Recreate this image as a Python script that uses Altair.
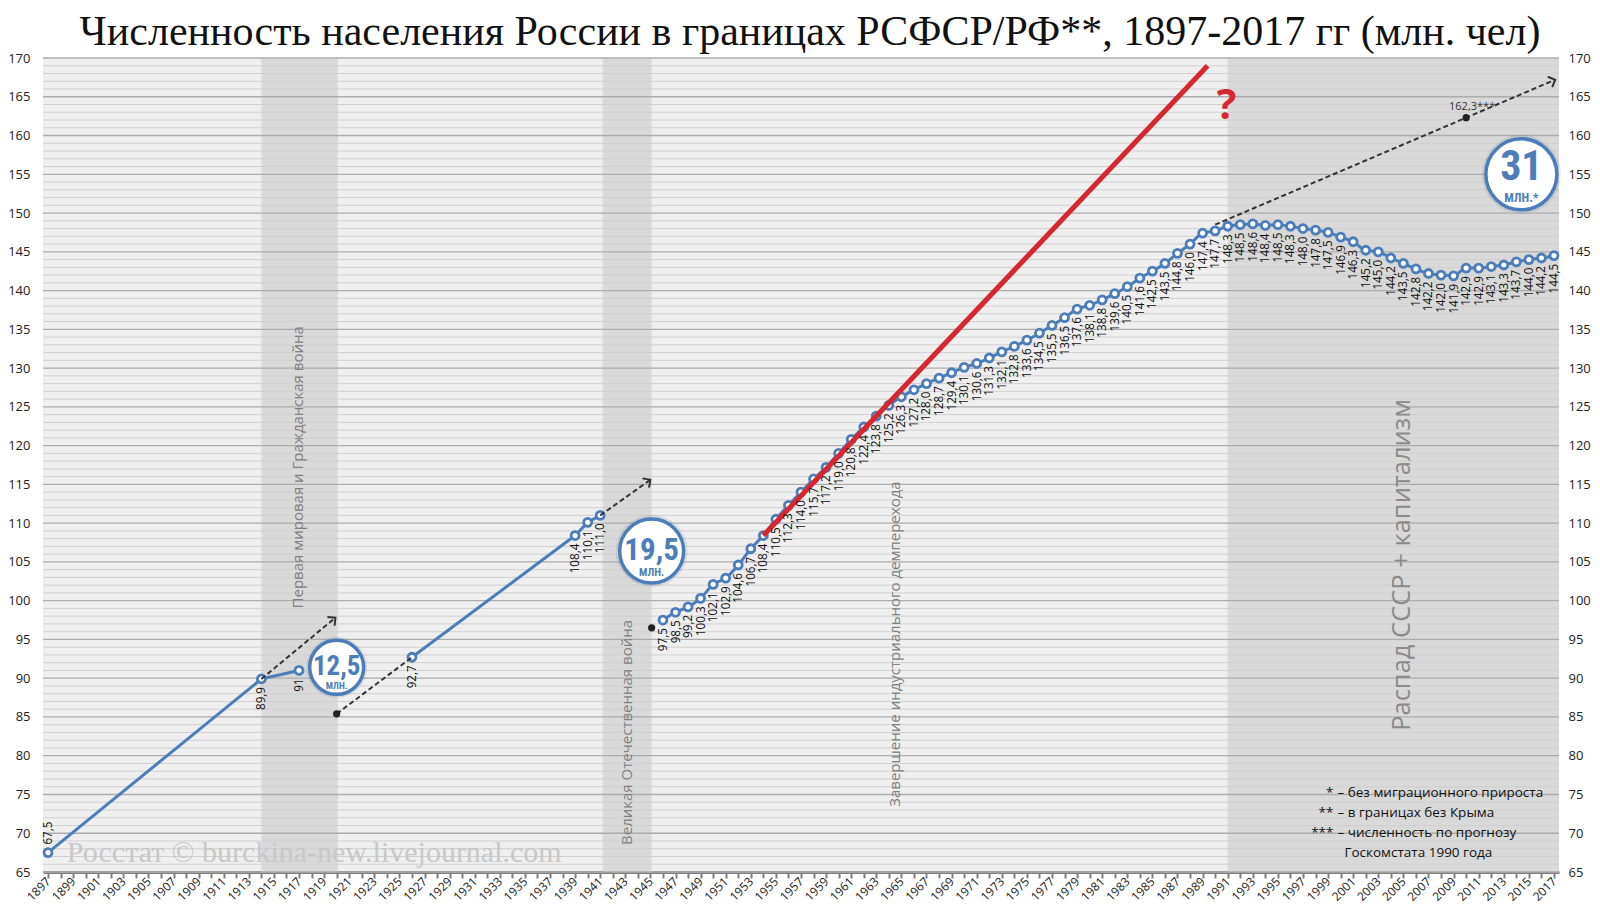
import math
import altair as alt
import pandas as pd

TITLE = "Численность населения России в границах РСФСР/РФ**, 1897-2017 гг (млн. чел)"

# ---------------- data ----------------
years = [1897, 1914, 1917, 1926, 1939, 1940, 1941] + list(range(1946, 2018))
population = [67.5, 89.9, 91.0, 92.7, 108.4, 110.1, 111.0,
              97.5, 98.5, 99.2, 100.3, 102.1, 102.9, 104.6, 106.7, 108.4, 110.5,
              112.3, 114.0, 115.7, 117.2, 119.0, 120.8, 122.4, 123.8, 125.2, 126.3,
              127.2, 128.0, 128.7, 129.4, 130.1, 130.6, 131.3, 132.1, 132.8, 133.6,
              134.5, 135.5, 136.5, 137.6, 138.1, 138.8, 139.6, 140.5, 141.6, 142.5,
              143.5, 144.8, 146.0, 147.4, 147.7, 148.3, 148.5, 148.6, 148.4, 148.5,
              148.3, 148.0, 147.8, 147.5, 146.9, 146.3, 145.2, 145.0, 144.2, 143.5,
              142.8, 142.2, 142.0, 141.9, 142.9, 142.9, 143.1, 143.3, 143.7, 144.0,
              144.2, 144.5]
segments = [0, 0, 0, 1, 1, 1, 1] + [2] * 72

red_years = [1954, 1989.4]
red_values = [108.4, 169.0]

arrow_ids = ["a", "a", "b", "b", "c", "c", "d", "d", "d"]
arrow_years = [1914, 1919.9, 1920, 1926, 1941, 1945, 1990, 2010, 2017.1]
arrow_values = [89.9, 97.8, 85.4, 92.7, 111.0, 115.6, 148.5, 162.3, 167.2]
arrowhead_ids = ["a", "c", "d"]

dot_years = [1920, 1945.1, 2010]
dot_values = [85.4, 96.5, 162.3]

band_start = [1914, 1941.2, 1991]
band_end = [1920.1, 1945.1, 2017.4]

badge_years = [1920, 1945.1, 2014.4]
badge_values = [91.4, 106.4, 155.0]
badge_numbers = ["12,5", "19,5", "31"]
badge_units = ["МЛН.", "МЛН.", "МЛН.*"]

note_texts = ["Первая мировая и Гражданская война",
              "Великая Отечественная война",
              "Завершение индустриального демперехода"]
note_years = [1916.9, 1943.1, 1964.5]
note_values = [117.2, 83.0, 94.4]

big_note = "Распад СССР + капитализм"
big_note_year = 2004.9
big_note_value = 104.6

legend_marks = ["*", "**", "***", ""]
legend_texts = ["– без миграционного прироста", "– в границах без Крыма",
                "– численность по прогнозу", "Госкомстата 1990 года"]
legend_years = [1999.75, 1999.75, 1999.75, 2000.3]
legend_values = [75.2, 72.6, 70.0, 67.5]

forecast_label = "162,3***"
watermark = "Росстат © burckina-new.livejournal.com"
watermark_year, watermark_value = 1898.5, 67.5
question_year, question_value = 1990.9, 163.7

# ---------------- styling ----------------
BLUE = "#4d7db8"
RED = "#d7262f"
W, H = 1516, 814
XMIN, XMAX = 1896.6, 2017.4
YMIN, YMAX = 65, 170
SANS = "Open Sans"
SERIF = "Liberation Serif"
NARROW = "Roboto Condensed, Liberation Sans Narrow, Arial Narrow, Roboto"

XS = alt.Scale(domain=[XMIN, XMAX], nice=False, zero=False)
YS = alt.Scale(domain=[YMIN, YMAX], nice=False, zero=False)


def X(f, axis=None):
    return alt.X(f, type="quantitative", scale=XS, axis=axis)


def Y(f, axis=None):
    return alt.Y(f, type="quantitative", scale=YS, axis=axis)


def fmt(v, y):
    return "91" if y == 1917 else f"{v:.1f}".replace(".", ",")


df = pd.DataFrame({"year": years, "pop": population, "seg": segments})
df["label"] = [fmt(v, y) for v, y in zip(population, years)]
df["above"] = [y == 1897 for y in years]

# ---------------- layers ----------------
x_axis = alt.Axis(values=list(range(1897, 2018)),
                  labelExpr="datum.value % 2 == 1 ? '' + datum.value : ''",
                  labelAngle=315, labelAlign="right", labelBaseline="middle",
                  labelFontSize=12, labelOverlap=False, labelPadding=1,
                  labelFont=SANS, labelColor="#222", labelBound=False,
                  tickSize=6, tickWidth=2, tickColor="#7f7f7f",
                  domainColor="#7f7f7f", domainWidth=3, grid=False, title=None,
                  orient="bottom")
y_left = alt.Axis(values=list(range(65, 171, 5)), orient="left", domain=False,
                  ticks=False, grid=False, labelFontSize=13, labelPadding=13,
                  labelFont=SANS, labelColor="#222", title=None)
y_right = alt.Axis(values=list(range(65, 171, 5)), orient="right", domain=False,
                   ticks=False, grid=False, labelFontSize=13, labelPadding=9,
                   labelFont=SANS, labelColor="#222", title=None)

bands_df = pd.DataFrame({"s": band_start, "e": band_end, "lo": YMIN, "hi": YMAX})
bands = alt.Chart(bands_df).mark_rect(color="#d9d9d9").encode(
    x=X("s", x_axis), x2="e", y=Y("lo", y_left), y2="hi")

grid_df = pd.DataFrame({"v": list(range(YMIN, YMAX + 1))})
minor = alt.Chart(grid_df).transform_filter("datum.v % 5 != 0").mark_rule(
    color="#d0d0d0", strokeWidth=1).encode(y=Y("v"))
major = alt.Chart(grid_df).transform_filter("datum.v % 5 == 0").mark_rule(
    color="#acacac", strokeWidth=1.3).encode(y=Y("v", y_right))

notes_df = pd.DataFrame({"t": note_texts, "x": note_years, "y": note_values})
notes = alt.Chart(notes_df).mark_text(angle=270, font=SANS, fontSize=15,
                                      color="#808080", baseline="middle",
                                      align="center").encode(
    x=X("x"), y=Y("y"), text="t")

big_df = pd.DataFrame({"t": [big_note], "x": [big_note_year], "y": [big_note_value]})
big = alt.Chart(big_df).mark_text(angle=270, font=SANS, fontSize=25.5,
                                  color="#8a8a8a", baseline="middle",
                                  align="center").encode(
    x=X("x"), y=Y("y"), text="t")

wm_df = pd.DataFrame({"t": [watermark], "x": [watermark_year], "y": [watermark_value]})
wm = alt.Chart(wm_df).mark_text(font=SERIF, fontSize=30,
                                color="#c8c8c8", align="left",
                                baseline="middle").encode(
    x=X("x"), y=Y("y"), text="t")

leg_df = pd.DataFrame({"m": legend_marks, "t": legend_texts,
                       "x": legend_years, "y": legend_values})
leg_text = alt.Chart(leg_df).mark_text(font=SANS, fontSize=13.5, color="#111",
                                       align="left", baseline="middle").encode(
    x=X("x"), y=Y("y"), text="t")
leg_mark = alt.Chart(leg_df).mark_text(font=SANS, fontSize=13.5, color="#111",
                                       align="right", baseline="middle",
                                       dx=-4).encode(
    x=X("x"), y=Y("y"), text="m")

line_early = alt.Chart(df).transform_filter("datum.seg < 2").mark_line(
    color=BLUE, strokeWidth=3).encode(x=X("year"), y=Y("pop"), detail="seg:N")
line_main = alt.Chart(df).transform_filter("datum.seg == 2").mark_line(
    color=BLUE, strokeWidth=3, interpolate="monotone").encode(
    x=X("year"), y=Y("pop"))
points = alt.Chart(df).mark_point(shape="circle", filled=True, fill="white",
                                  stroke=BLUE, strokeWidth=2.8, size=64,
                                  opacity=1).encode(x=X("year"), y=Y("pop"))

arr_df = pd.DataFrame({"id": arrow_ids, "x": arrow_years, "y": arrow_values,
                       "o": list(range(len(arrow_ids)))})
arrows = alt.Chart(arr_df).mark_line(color="#333", strokeWidth=2,
                                     strokeDash=[5, 3]).encode(
    x=X("x"), y=Y("y"), detail="id:N", order="o:Q")

# arrowhead rotation from the pixel direction of each arrow's last leg
px_year = W / (XMAX - XMIN)
px_unit = H / (YMAX - YMIN)
heads = []
for hid in arrowhead_ids:
    pts = [(x, y) for i, x, y in zip(arrow_ids, arrow_years, arrow_values) if i == hid]
    (x0, y0), (x1, y1) = pts[-2], pts[-1]
    ang = math.degrees(math.atan2(-(y1 - y0) * px_unit, (x1 - x0) * px_year)) % 360
    heads.append({"x": x1, "y": y1, "ang": ang})
heads_df = pd.DataFrame(heads)
arrowheads = alt.Chart(heads_df).mark_point(
    shape="M -1 -1 L 0 0 L -1 1", filled=False, color="#333", strokeWidth=2,
    size=130, opacity=1).encode(x=X("x"), y=Y("y"),
                                angle=alt.Angle("ang:Q", scale=None))

dots_df = pd.DataFrame({"x": dot_years, "y": dot_values})
dots = alt.Chart(dots_df).mark_point(filled=True, color="#222", size=52,
                                     opacity=1).encode(x=X("x"), y=Y("y"))

red_df = pd.DataFrame({"x": red_years, "y": red_values})
red = alt.Chart(red_df).mark_line(color=RED, strokeWidth=5).encode(
    x=X("x"), y=Y("y"))

labels_below = alt.Chart(df).transform_filter("!datum.above").mark_text(
    angle=270, align="right", baseline="middle", dx=-8, font=SANS,
    fontSize=11.7, color="#111").encode(x=X("year"), y=Y("pop"), text="label")
labels_above = alt.Chart(df).transform_filter("datum.above").mark_text(
    angle=270, align="left", baseline="middle", dx=8, font=SANS,
    fontSize=11.7, color="#111").encode(x=X("year"), y=Y("pop"), text="label")

fc_df = pd.DataFrame({"t": [forecast_label], "x": [dot_years[2]], "y": [dot_values[2]]})
fc = alt.Chart(fc_df).mark_text(font=SANS, fontSize=11, color="#333", dy=-11,
                                dx=6).encode(x=X("x"), y=Y("y"), text="t")

q_df = pd.DataFrame({"t": ["?"], "x": [question_year], "y": [question_value]})
q = alt.Chart(q_df).mark_text(font=SANS, fontWeight="bold", fontSize=41,
                              color=RED, baseline="middle").encode(
    x=X("x"), y=Y("y"), text="t")

badge_df = pd.DataFrame({"x": badge_years, "y": badge_values,
                         "n": badge_numbers, "u": badge_units})
badge_df["sz"] = [54 ** 2, 64 ** 2, 71 ** 2]
badge_df["sh"] = [61 ** 2, 72 ** 2, 79 ** 2]
shadow = alt.Chart(badge_df).mark_point(shape="circle", filled=True,
                                        color="#6a7f99", opacity=0.18).encode(
    x=X("x"), y=Y("y"), size=alt.Size("sh:Q", scale=None, legend=None))
badge = alt.Chart(badge_df).mark_point(shape="circle", filled=True, fill="white",
                                       stroke=BLUE, strokeWidth=3.5,
                                       opacity=1).encode(
    x=X("x"), y=Y("y"), size=alt.Size("sz:Q", scale=None, legend=None))

# per-badge text styling: (number size, number baseline dy, unit size, unit dy)
badge_styles = [(27, 8, 9.5, 19), (31, 9, 11, 22), (42, 6, 12.5, 24)]
badge_text_layers = []
for i, (ns, ndy, us, udy) in enumerate(badge_styles):
    sub = badge_df.iloc[[i]][["x", "y", "n", "u"]]
    badge_text_layers.append(
        alt.Chart(sub).mark_text(font=NARROW, fontWeight="bold", color=BLUE,
                                 baseline="alphabetic", dy=ndy, fontSize=ns)
        .encode(x=X("x"), y=Y("y"), text="n"))
    badge_text_layers.append(
        alt.Chart(sub).mark_text(font=NARROW, fontWeight="bold", color=BLUE,
                                 baseline="middle", dy=udy, fontSize=us)
        .encode(x=X("x"), y=Y("y"), text="u"))

chart = alt.layer(
    bands, minor, major, notes, big, wm, leg_text, leg_mark,
    line_early, line_main, points, arrows, red, arrowheads, dots,
    labels_below, labels_above, fc, q, shadow, badge, *badge_text_layers,
).resolve_axis(x="independent", y="independent").properties(
    width=W, height=H,
    autosize=alt.AutoSizeParams(type="none"),
    padding={"left": 35, "top": 50, "right": 33, "bottom": 34},
    title=alt.TitleParams(TITLE, font=SERIF, fontSize=42,
                          fontWeight="normal", color="#111", anchor="middle",
                          frame="group", offset=0, dy=2, dx=9),
).configure_view(fill="#efefef", stroke=None)

chart.save("out.html", embed_options={"renderer": "svg", "actions": False})
